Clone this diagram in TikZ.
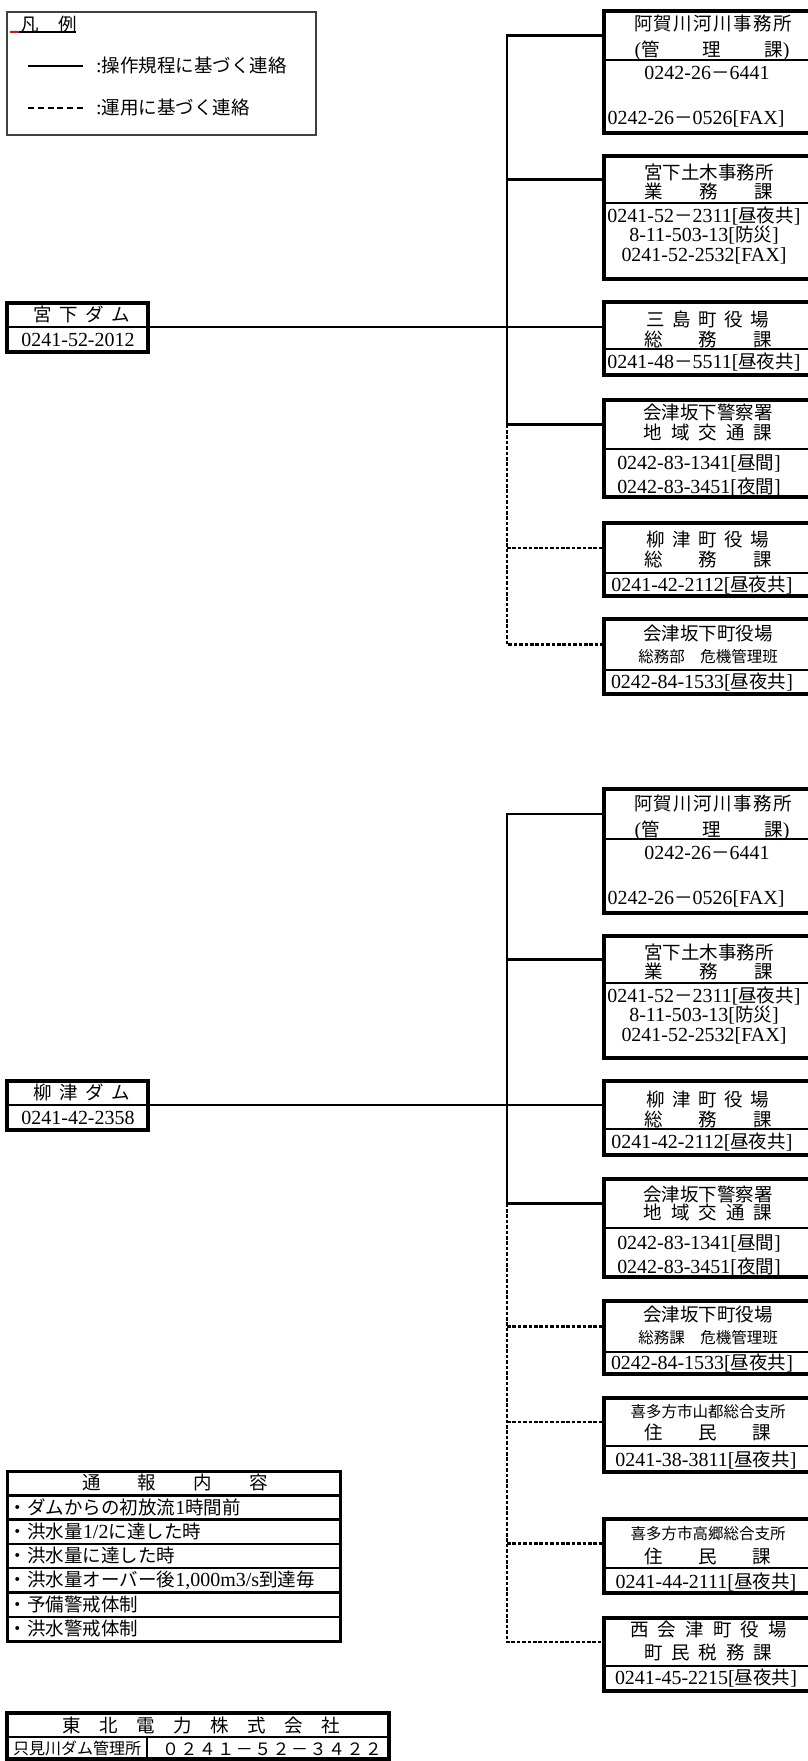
\documentclass[tikz,border=0pt]{standalone}
\usepackage{fontspec}
\setmainfont{Liberation Serif}[Scale=1.08]
\newfontfamily\jp{Noto Sans CJK JP}
\newcommand\spr[2]{\makebox[#1][s]{#2}}
\newcommand\FD{{\jp －}}
\newcommand\Jb[1]{[{\jp #1}]}
\newcommand\rbox[4]{%
  \pgfmathsetmacro\rbHH{#3-#2}%
  \pgfmathsetmacro\rbHC{(#2+#3)/2}%
  \pgfmathsetmacro\rbBH{#4-#3}%
  \pgfmathsetmacro\rbBC{(#3+#4)/2}%
  \node[cell, minimum height=\rbHH pt] (#1h) at (708,\rbHC) {};%
  \node[cell, minimum height=\rbBH pt] (#1b) at (708,\rbBC) {};%
  \draw[frame] (#1h.north west) rectangle (#1b.south east);%
}
\newcommand\dbox[4]{%
  \pgfmathsetmacro\rbHH{#3-#2}%
  \pgfmathsetmacro\rbHC{(#2+#3)/2}%
  \pgfmathsetmacro\rbBH{#4-#3}%
  \pgfmathsetmacro\rbBC{(#3+#4)/2}%
  \node[dcell, minimum height=\rbHH pt] (#1h) at (77.5,\rbHC) {};%
  \node[dcell, minimum height=\rbBH pt] (#1b) at (77.5,\rbBC) {};%
  \draw[frame] (#1h.north west) rectangle (#1b.south east);%
}
\begin{document}
\begin{tikzpicture}[x=1pt,y=-1pt,
  cell/.style={draw, line width=1.6pt, minimum width=208pt, inner sep=0pt, outer sep=0pt},
  dcell/.style={draw, line width=2pt, minimum width=141pt, inner sep=0pt, outer sep=0pt},
  frame/.style={line width=4pt},
  conn/.style={line width=2.6pt},
  dconn/.style={line width=2.2pt, dash pattern=on 3.6pt off 1.8pt},
  txt/.style={inner sep=0pt, outer sep=0pt, font=\fontsize{18.5}{20}\selectfont, text height=15pt, text depth=2pt},
  stxt/.style={txt, font=\fontsize{15.5}{17}\selectfont, text height=13pt},
  trow/.style={draw, line width=2.5pt, minimum width=333pt, minimum height=24.3pt, inner sep=0pt, outer sep=0pt},
]
\useasboundingbox (0,0) rectangle (808,1761);
\fill[white] (0,0) rectangle (808,1761);

% ---------- legend ----------
\node[draw=black!75, line width=1.2pt, minimum width=309pt, minimum height=123pt, inner sep=0pt] (leg) at (161.5,73.5) {};
\node[txt, anchor=west] (legt) at (20,25) {\jp 凡\hspace{20pt}例};
\draw[line width=1.3pt] (19,32) -- (76,32);
\draw[red, line width=1.3pt] (10,32) -- (19,32);
\coordinate (ls1) at (28,66); \coordinate (le1) at (83,66);
\coordinate (ls2) at (28,108); \coordinate (le2) at (83,108);
\draw[line width=1.8pt] (ls1) -- (le1);
\draw[line width=1.8pt, dash pattern=on 6pt off 3.8pt] (ls2) -- (le2);
\node[txt, anchor=west] (leg1) at (96,66) {:{\jp 操作規程に基づく連絡}};
\node[txt, anchor=west] (leg2) at (96,108) {:{\jp 運用に基づく連絡}};

% ---------- group 1 ----------
\coordinate (T1) at (507,0);
\dbox{D1}{303}{327}{352}
\node[txt] (d1p) at (81.5,315) {\spr{97pt}{\jp 宮\hfill 下\hfill ダ\hfill ム}};
\node[txt] (d1q) at (78,340) {0241-52-2012};

\rbox{A1}{11}{60}{133}
\node[txt] (a1p) at (713,24) {\spr{158pt}{\jp 阿\hfill 賀\hfill 川\hfill 河\hfill 川\hfill 事\hfill 務\hfill 所}};
\node[txt] (a1q) at (712,50) {\spr{155pt}{(\jp 管\hfill 理\hfill 課\rmfamily)}};
\node[txt] (a1r) at (707,73) {0242-26\FD 6441};
\node[txt] (a1s) at (696,118) {0242-26\FD 0526[FAX]};

\rbox{A2}{156}{203}{279}
\node[txt] (a2p) at (709,173) {\jp 宮下土木事務所};
\node[txt] (a2q) at (709,192) {\spr{129pt}{\jp 業\hfill 務\hfill 課}};
\node[txt] (a2r) at (704,216) {0241-52\FD 2311\Jb{昼夜共}};
\node[txt] (a2s) at (704,235) {8-11-503-13\Jb{防災}};
\node[txt] (a2t) at (704,255) {0241-52-2532[FAX]};

\rbox{A3}{302}{349}{375}
\node[txt] (a3p) at (708,320) {\spr{123pt}{\jp 三\hfill 島\hfill 町\hfill 役\hfill 場}};
\node[txt] (a3q) at (708,340) {\spr{128pt}{\jp 総\hfill 務\hfill 課}};
\node[txt] (a3r) at (704,362) {0241-48\FD 5511\Jb{昼夜共}};

\rbox{A4}{400}{449}{497}
\node[txt] (a4p) at (708,413) {\jp 会津坂下警察署};
\node[txt] (a4q) at (708,433) {\spr{129pt}{\jp 地\hfill 域\hfill 交\hfill 通\hfill 課}};
\node[txt] (a4r) at (699,463) {0242-83-1341\Jb{昼間}};
\node[txt] (a4s) at (699,487) {0242-83-3451\Jb{夜間}};

\rbox{A5}{523}{573}{596}
\node[txt] (a5p) at (708,540) {\spr{123pt}{\jp 柳\hfill 津\hfill 町\hfill 役\hfill 場}};
\node[txt] (a5q) at (708,560) {\spr{128pt}{\jp 総\hfill 務\hfill 課}};
\node[txt] (a5r) at (702,585) {0241-42-2112\Jb{昼夜共}};

\rbox{A6}{619}{670}{694}
\node[txt] (a6p) at (708,634) {\jp 会津坂下町役場};
\node[stxt] (a6q) at (708,657) {\jp 総務部　危機管理班};
\node[txt] (a6r) at (702,682) {0242-84-1533\Jb{昼夜共}};

\draw[conn] (A1h.west) -| (T1 |- A4h.west) -- (A4h.west);
\draw[conn] (T1 |- A2h.west) -- (A2h.west);
\draw[conn] (D1h.south east) -- (A3h.west |- D1h.south east);
\draw[dconn] (T1 |- A4h.west) -- (T1 |- A6h.west) -- (A6h.west);
\draw[dconn] (T1 |- A5h.west) -- (A5h.west);

% ---------- group 2 ----------
\dbox{D2}{1081}{1105}{1130}
\node[txt] (d2p) at (81.5,1093) {\spr{97pt}{\jp 柳\hfill 津\hfill ダ\hfill ム}};
\node[txt] (d2q) at (78,1118) {0241-42-2358};

\rbox{B1}{789}{839}{913}
\node[txt] (b1p) at (713,804) {\spr{158pt}{\jp 阿\hfill 賀\hfill 川\hfill 河\hfill 川\hfill 事\hfill 務\hfill 所}};
\node[txt] (b1q) at (712,830) {\spr{155pt}{(\jp 管\hfill 理\hfill 課\rmfamily)}};
\node[txt] (b1r) at (707,853) {0242-26\FD 6441};
\node[txt] (b1s) at (696,898) {0242-26\FD 0526[FAX]};

\rbox{B2}{936}{983}{1058}
\node[txt] (b2p) at (709,953) {\jp 宮下土木事務所};
\node[txt] (b2q) at (709,972) {\spr{129pt}{\jp 業\hfill 務\hfill 課}};
\node[txt] (b2r) at (704,996) {0241-52\FD 2311\Jb{昼夜共}};
\node[txt] (b2s) at (704,1015) {8-11-503-13\Jb{防災}};
\node[txt] (b2t) at (704,1035) {0241-52-2532[FAX]};

\rbox{B3}{1081}{1129}{1155}
\node[txt] (b3p) at (708,1100) {\spr{123pt}{\jp 柳\hfill 津\hfill 町\hfill 役\hfill 場}};
\node[txt] (b3q) at (708,1120) {\spr{128pt}{\jp 総\hfill 務\hfill 課}};
\node[txt] (b3r) at (702,1142) {0241-42-2112\Jb{昼夜共}};

\rbox{B4}{1179}{1228}{1277}
\node[txt] (b4p) at (708,1195) {\jp 会津坂下警察署};
\node[txt] (b4q) at (708,1213) {\spr{129pt}{\jp 地\hfill 域\hfill 交\hfill 通\hfill 課}};
\node[txt] (b4r) at (699,1243) {0242-83-1341\Jb{昼間}};
\node[txt] (b4s) at (699,1267) {0242-83-3451\Jb{夜間}};

\rbox{B5}{1301}{1352}{1374}
\node[txt] (b5p) at (708,1315) {\jp 会津坂下町役場};
\node[stxt] (b5q) at (708,1338) {\jp 総務課　危機管理班};
\node[txt] (b5r) at (702,1363) {0242-84-1533\Jb{昼夜共}};

\rbox{B6}{1398}{1446}{1472}
\node[stxt] (b6p) at (708,1412) {\jp 喜多方市山都総合支所};
\node[txt] (b6q) at (708,1433) {\spr{127pt}{\jp 住\hfill 民\hfill 課}};
\node[txt] (b6r) at (706,1460) {0241-38-3811\Jb{昼夜共}};

\rbox{B7}{1519}{1568}{1593}
\node[stxt] (b7p) at (708,1534) {\jp 喜多方市高郷総合支所};
\node[txt] (b7q) at (708,1557) {\spr{127pt}{\jp 住\hfill 民\hfill 課}};
\node[txt] (b7r) at (706,1582) {0241-44-2111\Jb{昼夜共}};

\rbox{B8}{1618}{1666}{1691}
\node[txt] (b8p) at (708.5,1630) {\spr{157pt}{\jp 西\hfill 会\hfill 津\hfill 町\hfill 役\hfill 場}};
\node[txt] (b8q) at (708,1653) {\spr{128pt}{\jp 町\hfill 民\hfill 税\hfill 務\hfill 課}};
\node[txt] (b8r) at (706,1678) {0241-45-2215\Jb{昼夜共}};

\draw[conn] (B1h.west) -| (T1 |- B4h.west) -- (B4h.west);
\draw[conn] (T1 |- B2h.west) -- (B2h.west);
\draw[conn] (D2h.south east) -- (B3h.west |- D2h.south east);
\draw[dconn] (T1 |- B4h.west) -- (T1 |- B8h.west) -- (B8h.west);
\draw[dconn] (T1 |- B5h.west) -- (B5h.west);
\draw[dconn] (T1 |- B6h.west) -- (B6h.west);
\draw[dconn] (T1 |- B7h.west) -- (B7h.west);

% ---------- notification table ----------
\foreach \k in {0,...,6} {
  \node[trow] (N\k) at (173.5,{1471+24.3*\k+12.15}) {};
}
\draw[line width=3pt] (N0.north west) rectangle (N6.south east);
\node[txt] (n0t) at (175,1483) {\spr{186pt}{\jp 通\hfill 報\hfill 内\hfill 容}};
\node[txt, anchor=west] (n1t) at (9,1507.5) {{\jp ・ダムからの初放流}1{\jp 時間前}};
\node[txt, anchor=west] (n2t) at (9,1531.8) {{\jp ・洪水量}1/2{\jp に達した時}};
\node[txt, anchor=west] (n3t) at (9,1556.1) {\jp ・洪水量に達した時};
\node[txt, anchor=west] (n4t) at (9,1580.4) {{\jp ・洪水量オーバー後}1,000m3/s{\jp 到達毎}};
\node[txt, anchor=west] (n5t) at (9,1604.7) {\jp ・予備警戒体制};
\node[txt, anchor=west] (n6t) at (9,1629) {\jp ・洪水警戒体制};

% ---------- Tohoku Electric table ----------
\node[draw, line width=2.6pt, minimum width=380pt, minimum height=23pt, inner sep=0pt] (E0) at (198,1725.5) {};
\node[draw, line width=2.6pt, minimum width=139pt, minimum height=21pt, inner sep=0pt] (E1) at (77.5,1747.5) {};
\node[draw, line width=2.6pt, minimum width=241pt, minimum height=21pt, inner sep=0pt] (E2) at (267.5,1747.5) {};
\draw[frame] (E0.north west) rectangle (E2.south east);
\node[txt] (e0t) at (201,1726) {\spr{278pt}{\jp 東\hfill 北\hfill 電\hfill 力\hfill 株\hfill 式\hfill 会\hfill 社}};
\node[stxt, font=\fontsize{16}{18}\selectfont] (e1t) at (77,1748.5) {\jp 只見川ダム管理所};
\node[txt, font=\fontsize{17}{19}\selectfont] (e2t) at (272,1748.5) {\spr{220pt}{\jp ０\hfill ２\hfill ４\hfill １\hfill －\hfill ５\hfill ２\hfill －\hfill ３\hfill ４\hfill ２\hfill ２}};
\end{tikzpicture}
\end{document}
